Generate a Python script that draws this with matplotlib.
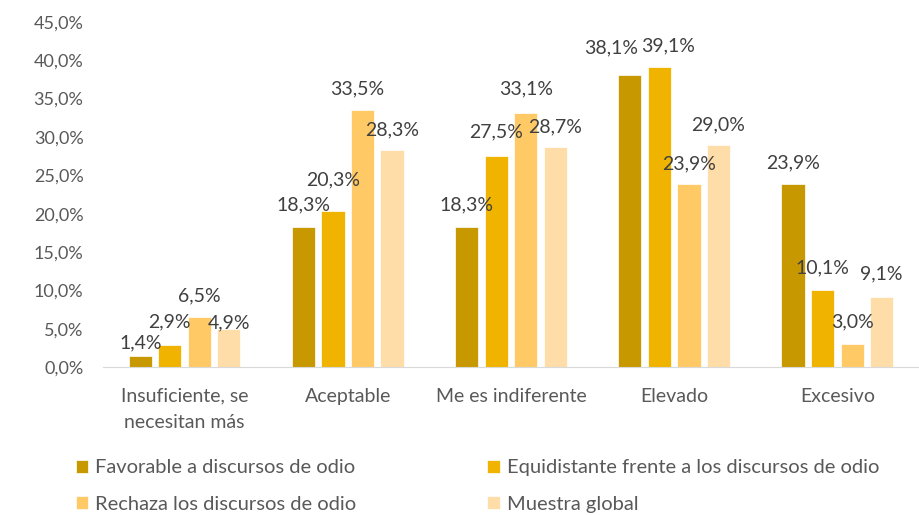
import matplotlib
matplotlib.use("Agg")
import matplotlib.pyplot as plt
import numpy as np

categories = ["Insuficiente, se\nnecesitan más", "Aceptable", "Me es indiferente", "Elevado", "Excesivo"]
series_names = ["Favorable a discursos de odio",
                "Equidistante frente a los discursos de odio",
                "Rechaza los discursos de odio",
                "Muestra global"]
favorable = [1.4, 18.3, 18.3, 38.1, 23.9]
equidistante = [2.9, 20.3, 27.5, 39.1, 10.1]
rechaza = [6.5, 33.5, 33.1, 23.9, 3.0]
global_ = [4.9, 28.3, 28.7, 29.0, 9.1]
yticks = [0, 5, 10, 15, 20, 25, 30, 35, 40, 45]

series = [favorable, equidistante, rechaza, global_]
colors = ["#C89800", "#F0B400", "#FFC966", "#FFDDA8"]
# label offsets (pixels from bar top centre to label centre)
label_dy = [[13, 22, 22, 27, 21],
            [23, 31, 24, 21, 22],
            [21, 21, 24, 20, 22],
            [7, 20, 20, 20, 23]]
label_dx = [[0, 0, 0, -19, 0],
            [0, 0, 0, 9, 0],
            [0, -5, 0, 0, 0],
            [0, 0, 0, 0, 0]]

FONT = ['Lato', 'DejaVu Sans']
plt.rcParams['font.family'] = FONT
fig = plt.figure(figsize=(9.19, 5.15), dpi=100)
ax = fig.add_axes([0.112, 0.2874, 0.888, 0.67])

x = np.arange(len(categories))
step = 0.181
width = 0.142
handles = []
for i, (vals, c) in enumerate(zip(series, colors)):
    pos = x + (i - 1.5) * step
    bars = ax.bar(pos, vals, width=width, color=c, label=series_names[i],
                  edgecolor="white", linewidth=0.5)
    handles.append(bars)
    for j, (p, v) in enumerate(zip(pos, vals)):
        ax.annotate(f"{v:.1f}%".replace(".", ","), xy=(p, v),
                    xytext=(label_dx[i][j] * 0.72, label_dy[i][j] * 0.72),
                    textcoords="offset points",
                    ha="center", va="center", fontsize=14, color="#404040",
                    family=FONT)

ax.set_xlim(-0.5, len(categories) - 0.5)
ax.set_ylim(0, 45)
ax.set_yticks(yticks)
ax.set_yticklabels([f"{t:.1f}%".replace(".", ",") for t in yticks],
                   fontsize=13, color="#595959", family=FONT)
ax.set_xticks(x)
ax.set_xticklabels(categories, fontsize=14, color="#595959",
                   family=FONT, linespacing=1.65)
ax.tick_params(axis="both", length=0)
ax.tick_params(axis="y", pad=14)
ax.tick_params(axis="x", pad=15)
for s in ["top", "right", "left"]:
    ax.spines[s].set_visible(False)
ax.spines["bottom"].set_color("#D9D9D9")

order = [0, 2, 1, 3]
leg = fig.legend([handles[k] for k in order], [series_names[k] for k in order],
                 loc="upper left", bbox_to_anchor=(0.083, 0.108), ncol=2,
                 frameon=False, handlelength=0.6, handleheight=0.6,
                 handletextpad=0.35, columnspacing=6.5, labelspacing=0.95,
                 borderaxespad=0, borderpad=0,
                 prop={'family': FONT, 'size': 14.5})
for t in leg.get_texts():
    t.set_color("#595959")

fig.savefig("out.png", dpi=100)
